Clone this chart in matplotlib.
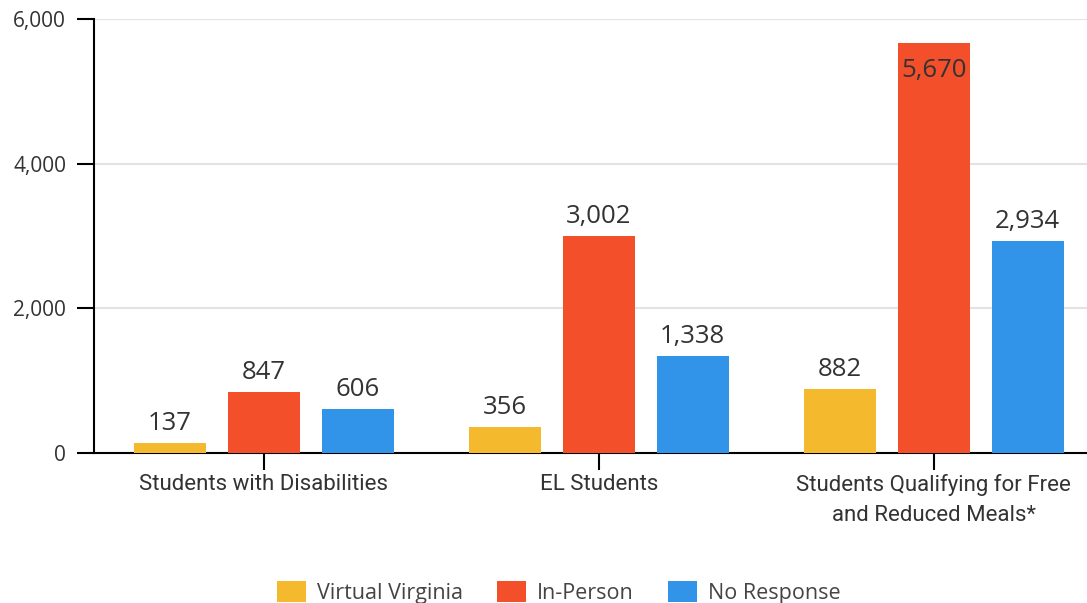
import matplotlib.pyplot as plt
import numpy as np

categories = ['Students with Disabilities', 'EL Students',
              'Students Qualifying for Free\nand Reduced Meals*']
series = ['Virtual Virginia', 'In-Person', 'No Response']
virtual = [137, 356, 882]
in_person = [847, 3002, 5670]
no_response = [606, 1338, 2934]
colors = ['#F5B92E', '#F44F2B', '#3194E8']

fig = plt.figure(figsize=(10.87, 6.03), dpi=100)
ax = fig.add_axes([94/1087, 150/603, 993/1087, 434/603])

x = np.arange(len(categories))
w = 0.215
step = 0.28
for i, (name, vals) in enumerate(zip(series, [virtual, in_person, no_response])):
    pos = x + (i - 1) * step
    ax.bar(pos, vals, width=w, color=colors[i], label=name, zorder=3)
    for px, v in zip(pos, vals):
        if v > 5000:
            ax.annotate(f'{v:,}', (px, v), xytext=(0, -11), textcoords='offset points',
                        ha='center', va='top', fontsize=18.5, color='#333333',
                        family='Open Sans', zorder=4)
        else:
            ax.annotate(f'{v:,}', (px, v), xytext=(0, 5), textcoords='offset points',
                        ha='center', va='bottom', fontsize=18.5, color='#333333',
                        family='Open Sans', zorder=4)

ax.set_xlim(-0.507, 2.457)
ax.set_ylim(0, 6000)
ax.set_yticks([0, 2000, 4000, 6000])
ax.set_yticklabels(['0', '2,000', '4,000', '6,000'], family='Open Sans',
                   fontsize=15, color='#333333')
ax.set_xticks(x)
ax.set_xticklabels(categories, family='Roboto', fontsize=16, color='#333333',
                   linespacing=1.55)
ax.tick_params(axis='y', length=12, width=1.5, pad=8, color='black')
ax.tick_params(axis='x', length=12, width=1.5, pad=3, color='black')
ax.grid(axis='y', color='#e3e3e3', linewidth=1.5, zorder=0)
for s in ['top', 'right']:
    ax.spines[s].set_visible(False)
ax.spines['left'].set_linewidth(1.5)
ax.spines['bottom'].set_linewidth(1.5)

leg = fig.legend(loc='center', bbox_to_anchor=(0.514, 0.017), ncol=3, frameon=False,
                 prop={'family': 'Open Sans', 'size': 15.5}, handlelength=1.35,
                 handleheight=1.1, columnspacing=1.6, handletextpad=0.5)
for t in leg.get_texts():
    t.set_color('#444444')

fig.savefig('out.png', dpi=100)
